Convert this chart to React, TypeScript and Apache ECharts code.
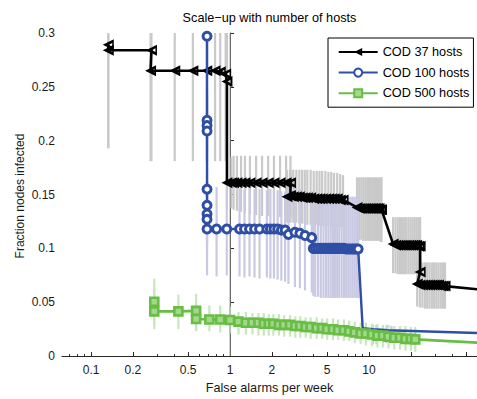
import React, { useEffect, useRef } from "react";
import * as echarts from "echarts";

const FONT = "'Liberation Sans', Arial, Helvetica, sans-serif";

// ---- axes ----
const xAxisMin = 0.0618;
const xAxisMax = 59.8;
const xLabelTicks = [0.1, 0.2, 0.5, 1, 2, 5, 10];
const xMajorTicks = [0.1, 0.2, 0.5, 1, 2, 5, 10, 20, 50];
const xMinorTicks = [0.07, 0.08, 0.09, 0.3, 0.4, 0.6, 0.7, 0.8, 0.9, 3, 4, 6, 7, 8, 9, 30, 40];
const yMin = 0;
const yMax = 0.3;
const yStep = 0.05;
const refLineX = 1;

const titleText = "Scale\u2212up with number of hosts";
const xName = "False alarms per week";
const yName = "Fraction nodes infected";
const seriesNames = ["COD 37 hosts", "COD 100 hosts", "COD 500 hosts"];

// ---- COD 37 hosts ----
const x37 = [
  0.133, 0.133, 0.272, 0.268, 0.4, 0.54, 0.68, 0.78, 0.85, 0.93, 0.95,
  0.95, 1.02, 1.06, 1.12, 1.2, 1.28, 1.39, 1.54, 1.7, 1.88, 2.07, 2.29, 2.53,
  2.72, 2.72, 2.57,
  2.7, 2.85, 3.0, 3.15, 3.3, 3.45, 3.6, 3.8, 4.0, 4.2, 4.4, 4.6, 4.85, 5.1, 5.35, 5.6, 5.9, 6.2, 6.5,
  8.2, 8.5, 8.8, 9.1, 9.4, 9.7, 10.0, 10.3, 10.6, 10.9, 11.2, 11.5, 11.8, 12.1, 12.3,
  14.9, 15.5, 16.1, 16.7, 17.3, 17.9, 18.5, 19.2, 19.9, 20.6, 21.3, 22.0, 22.7, 23.3,
  23.3,
  22.2, 23.2, 24.2, 25.2, 26.2, 27.2, 28.3, 29.4, 30.5, 31.6, 32.8, 34.0, 35.2,
];
const y37 = [
  0.289, 0.284, 0.284, 0.265, 0.265, 0.265, 0.265, 0.265, 0.264, 0.262, 0.255,
  0.161, 0.161, 0.161, 0.161, 0.161, 0.161, 0.161, 0.161, 0.161, 0.161, 0.161, 0.161, 0.161,
  0.161, 0.149, 0.148,
  0.149, 0.148, 0.148, 0.148, 0.147, 0.147, 0.147, 0.147, 0.146, 0.146, 0.146, 0.146, 0.146, 0.146, 0.146, 0.146, 0.146, 0.145, 0.145,
  0.138, 0.137, 0.137, 0.137, 0.137, 0.137, 0.137, 0.137, 0.137, 0.137, 0.137, 0.137, 0.137, 0.136, 0.136,
  0.104, 0.103, 0.103, 0.103, 0.103, 0.103, 0.103, 0.103, 0.103, 0.103, 0.103, 0.103, 0.102, 0.102,
  0.078,
  0.067, 0.066, 0.066, 0.066, 0.066, 0.066, 0.066, 0.066, 0.066, 0.066, 0.065, 0.065, 0.065,
];
const lo37 = [
  0.193, 0.193, 0.181, 0.181, 0.181, 0.181, 0.181, 0.181, 0.181, 0.181, 0.181,
  0.136, 0.137, 0.136, 0.135, 0.134, 0.133, 0.132, 0.131, 0.13, 0.13, 0.129, 0.129, 0.128,
  0.128, 0.124, 0.124,
  0.124, 0.124, 0.124, 0.123, 0.123, 0.123, 0.122, 0.122, 0.122, 0.122, 0.121, 0.121, 0.121, 0.121, 0.12, 0.12, 0.12, 0.12, 0.12,
  0.108, 0.108, 0.108, 0.107, 0.107, 0.107, 0.107, 0.107, 0.107, 0.107, 0.107, 0.107, 0.107, 0.106, 0.106,
  0.077, 0.077, 0.076, 0.076, 0.076, 0.076, 0.076, 0.076, 0.076, 0.076, 0.076, 0.076, 0.076, 0.076,
  0.062,
  0.046, 0.045, 0.045, 0.044, 0.044, 0.044, 0.044, 0.044, 0.044, 0.044, 0.044, 0.044, 0.044,
];
const hi37 = [
  0.3, 0.3, 0.3, 0.3, 0.3, 0.3, 0.3, 0.3, 0.3, 0.3, 0.3,
  0.184, 0.185, 0.186, 0.186, 0.186, 0.186, 0.186, 0.186, 0.186, 0.186, 0.186, 0.186, 0.186,
  0.186, 0.173, 0.173,
  0.173, 0.173, 0.173, 0.173, 0.173, 0.173, 0.173, 0.173, 0.172, 0.172, 0.172, 0.172, 0.172, 0.171, 0.171, 0.17, 0.17, 0.169, 0.168,
  0.166, 0.166, 0.166, 0.166, 0.166, 0.166, 0.166, 0.166, 0.166, 0.166, 0.166, 0.166, 0.166, 0.166, 0.166,
  0.129, 0.129, 0.129, 0.129, 0.129, 0.129, 0.129, 0.129, 0.129, 0.129, 0.129, 0.129, 0.129, 0.129,
  0.094,
  0.087, 0.087, 0.087, 0.087, 0.087, 0.087, 0.087, 0.087, 0.087, 0.087, 0.087, 0.087, 0.087,
];
const tailX37 = [60];
const tailY37 = [0.062];

// ---- COD 100 hosts ----
const x100 = [
  0.683, 0.683, 0.683, 0.683, 0.683, 0.683, 0.683, 0.683, 0.683,
  0.8, 0.947, 1.17, 1.27, 1.38, 1.5, 1.63, 1.84, 1.95, 2.07, 2.2, 2.34, 2.49,
  2.63, 2.93, 3.18, 3.46, 3.87,
  3.97,
  4.1, 4.3, 4.5, 4.7, 4.9, 5.1, 5.3, 5.5, 5.7, 5.9, 6.1, 6.35, 6.6, 6.85, 7.1, 7.35, 7.6, 7.85, 8.1, 8.35,
];
const y100 = [
  0.297, 0.219, 0.214, 0.209, 0.155, 0.14, 0.132, 0.127, 0.118,
  0.118, 0.118, 0.118, 0.118, 0.118, 0.118, 0.118, 0.118, 0.118, 0.118, 0.118, 0.117, 0.117,
  0.113, 0.115, 0.114, 0.112, 0.11,
  0.1,
  0.1, 0.1, 0.1, 0.1, 0.1, 0.1, 0.1, 0.1, 0.1, 0.1, 0.1, 0.1, 0.1, 0.0995, 0.0995, 0.0995, 0.0995, 0.0995, 0.0995, 0.0995,
];
const lo100 = [
  0.262, 0.19, 0.185, 0.18, 0.125, 0.115, 0.105, 0.1, 0.075,
  0.074, 0.075, 0.074, 0.073, 0.074, 0.073, 0.072, 0.073, 0.072, 0.072, 0.071, 0.07, 0.069,
  0.067, 0.064, 0.063, 0.061, 0.059,
  0.056,
  0.055, 0.055, 0.054, 0.054, 0.054, 0.054, 0.054, 0.054, 0.054, 0.054, 0.054, 0.054, 0.054, 0.054, 0.054, 0.054, 0.054, 0.054, 0.054, 0.054,
];
const hi100 = [
  0.3, 0.25, 0.245, 0.24, 0.185, 0.17, 0.162, 0.157, 0.162,
  0.157, 0.156, 0.156, 0.155, 0.156, 0.155, 0.155, 0.154, 0.155, 0.154, 0.154, 0.153, 0.153,
  0.157, 0.156, 0.155, 0.154, 0.153,
  0.15,
  0.149, 0.149, 0.148, 0.148, 0.148, 0.148, 0.148, 0.148, 0.148, 0.148, 0.148, 0.148, 0.148, 0.148, 0.148, 0.148, 0.148, 0.148, 0.148, 0.148,
];
const tailX100 = [9.0, 10.7, 12.2, 13.6, 60];
const tailY100 = [0.026, 0.025, 0.0245, 0.024, 0.0215];
const tailErrX100 = [10.7, 11.3, 13.4, 14.5];
const tailErrLo100 = [0.011, 0.011, 0.012, 0.012];
const tailErrHi100 = [0.029, 0.029, 0.029, 0.028];

// ---- COD 500 hosts ----
const x500 = [
  0.285, 0.285, 0.425, 0.57, 0.57, 0.71, 0.85, 1.0,
  1.15, 1.3, 1.45, 1.6, 1.75, 1.9, 2.05, 2.25, 2.45, 2.7, 2.95, 3.2, 3.5, 3.8, 4.2, 4.6,
  5.0, 5.5, 6.0, 6.6, 7.2, 7.9, 8.7, 9.5, 10.5, 11.5, 12.6, 13.8, 15.2, 16.7, 18.3, 20, 21.5,
];
const y500 = [
  0.0505, 0.0415, 0.0415, 0.042, 0.0345, 0.034, 0.034, 0.0335,
  0.032, 0.031, 0.031, 0.031, 0.03, 0.03, 0.03, 0.029, 0.029, 0.029, 0.028, 0.028, 0.027, 0.027, 0.026, 0.026,
  0.025, 0.025, 0.024, 0.024, 0.023, 0.022, 0.021, 0.021, 0.02, 0.019, 0.019, 0.018, 0.017, 0.017, 0.016, 0.016, 0.0155,
];
const lo500 = [
  0.028, 0.025, 0.025, 0.024, 0.023, 0.023, 0.022, 0.021,
  0.02, 0.02, 0.02, 0.019, 0.019, 0.019, 0.019, 0.019, 0.018, 0.018, 0.017, 0.017, 0.017, 0.016, 0.016, 0.016,
  0.015, 0.015, 0.015, 0.014, 0.014, 0.012, 0.011, 0.01, 0.009, 0.008, 0.008, 0.007, 0.006, 0.006, 0.005, 0.005, 0.004,
];
const hi500 = [
  0.072, 0.062, 0.057, 0.058, 0.048, 0.047, 0.047, 0.046,
  0.041, 0.041, 0.04, 0.04, 0.04, 0.039, 0.039, 0.039, 0.038, 0.038, 0.037, 0.037, 0.036, 0.036, 0.036, 0.035,
  0.035, 0.035, 0.034, 0.034, 0.033, 0.032, 0.031, 0.031, 0.03, 0.03, 0.029, 0.029, 0.028, 0.028, 0.028, 0.027, 0.027,
];
const tailX500 = [60];
const tailY500 = [0.0125];

// ---- styles ----
const C37 = "#000000";
const C100 = "#2f4ea6";
const C500 = "#68bd44";
const F500 = "#a3d78c";
const E37 = "#c9c9c9";
const E100 = "#c9c9e3";
const E500 = "#c9e6bf";
// left-pointing triangle with a small hollow centre
const TRI_LEFT = "path://M0,5L10,0L10,10Z M5.6,5L8.6,6.7L8.6,3.3Z";

const lx = (v: number) => Math.log10(v);

function lineData(xs: number[], ys: number[], tx: number[], ty: number[]) {
  const main: any[] = xs.map((x, i) => [lx(x), ys[i]]);
  const tail = tx.map((x, i) => ({ value: [lx(x), ty[i]], symbol: "none" }));
  return main.concat(tail);
}

function errData(xs: number[], lo: number[], hi: number[]) {
  return xs.map((x, i) => [lx(x), lo[i], hi[i]]);
}

function errSeries(data: number[][], color: string) {
  return {
    type: "custom",
    silent: true,
    clip: true,
    z: 1,
    data,
    encode: { x: 0, y: [1, 2] },
    renderItem: (_params: any, api: any) => {
      const x = api.value(0);
      const a = api.coord([x, api.value(1)]);
      const b = api.coord([x, api.value(2)]);
      return {
        type: "line",
        shape: { x1: a[0], y1: a[1], x2: b[0], y2: b[1] },
        style: { stroke: color, lineWidth: 2.2 },
      };
    },
  };
}

export default function App() {
  const ref = useRef<HTMLDivElement>(null);

  useEffect(() => {
    if (!ref.current) return;
    const chart = echarts.init(ref.current, undefined, { renderer: "svg" });
    const xmin = lx(xAxisMin);
    const xmax = lx(xAxisMax);
    const labelFor = (v: number) => {
      const t = xLabelTicks.find((k) => Math.abs(lx(k) - v) < 1e-6);
      return t === undefined ? "" : String(t);
    };

    const option: any = {
      animation: false,
      grid: { left: 62, right: 0, top: 33, bottom: 37, containLabel: false },
      graphic: [
        {
          type: "text",
          x: 269.5,
          y: 18,
          style: {
            text: titleText,
            fontSize: 12.7,
            fontFamily: FONT,
            fill: "#000",
            align: "center",
            verticalAlign: "middle",
          },
        },
        {
          type: "text",
          x: 20,
          y: 196,
          rotation: Math.PI / 2,
          style: {
            text: yName,
            fontSize: 12,
            fontFamily: FONT,
            fill: "#1a1a1a",
            align: "center",
            verticalAlign: "middle",
          },
        },
      ],
      legend: {
        data: seriesNames,
        orient: "vertical",
        left: 328,
        top: 38,
        itemWidth: 39,
        itemHeight: 10,
        itemGap: 7.7,
        padding: [7.4, 4, 7.4, 9.7],
        borderColor: "#000",
        borderWidth: 1,
        backgroundColor: "#fff",
        selectedMode: false,
        textStyle: { fontSize: 12.7, fontFamily: FONT, color: "#000", lineHeight: 10 },
      },
      xAxis: [
        {
          type: "value",
          min: xmin,
          max: xmax,
          position: "bottom",
          axisLine: { show: true, onZero: false, lineStyle: { color: "#262626", width: 1 } },
          axisTick: {
            show: true,
            inside: true,
            length: 4,
            customValues: xMajorTicks.map(lx),
            lineStyle: { color: "#262626" },
          },
          axisLabel: {
            customValues: xLabelTicks.map(lx),
            formatter: labelFor,
            margin: 8,
            fontSize: 12,
            fontFamily: FONT,
            color: "#1a1a1a",
          },
          splitLine: { show: false },
          name: xName,
          nameLocation: "middle",
          nameGap: 19,
          nameTextStyle: { fontSize: 12.7, fontFamily: FONT, color: "#1a1a1a" },
        },
        {
          type: "value",
          min: xmin,
          max: xmax,
          position: "bottom",
          axisLine: { show: false, onZero: false },
          axisTick: {
            show: true,
            inside: true,
            length: 2,
            customValues: xMinorTicks.map(lx),
            lineStyle: { color: "#262626" },
          },
          axisLabel: { show: false },
          splitLine: { show: false },
        },
      ],
      yAxis: {
        type: "value",
        min: yMin,
        max: yMax,
        interval: yStep,
        axisLine: { show: true, lineStyle: { color: "#262626", width: 1 } },
        axisTick: { show: true, inside: true, length: 4, lineStyle: { color: "#262626" } },
        axisLabel: {
          margin: 7,
          fontSize: 12,
          fontFamily: FONT,
          color: "#1a1a1a",
          formatter: (v: number) => String(Number(v.toFixed(2))),
        },
        splitLine: { show: false },
      },
      series: [
        errSeries(errData(x37, lo37, hi37), E37),
        errSeries(errData(x100, lo100, hi100), E100),
        errSeries(errData(tailErrX100, tailErrLo100, tailErrHi100), E100),
        errSeries(errData(x500, lo500, hi500), E500),
        {
          type: "line",
          silent: true,
          symbol: "none",
          z: 2,
          data: [
            [lx(refLineX), yMin],
            [lx(refLineX), yMax],
          ],
          lineStyle: { color: "#a0a0a0", width: 1 },
        },
        {
          name: seriesNames[0],
          type: "line",
          z: 3,
          data: lineData(x37, y37, tailX37, tailY37),
          symbol: TRI_LEFT,
          symbolSize: 11,
          showAllSymbol: true,
          itemStyle: { color: C37, borderWidth: 0 },
          lineStyle: { color: C37, width: 2.6 },
        },
        {
          name: seriesNames[1],
          type: "line",
          z: 4,
          data: lineData(x100, y100, tailX100, tailY100),
          symbol: "circle",
          symbolSize: 8,
          showAllSymbol: true,
          itemStyle: { color: "#fff", borderColor: C100, borderWidth: 3 },
          lineStyle: { color: C100, width: 2.4 },
        },
        {
          name: seriesNames[2],
          type: "line",
          z: 5,
          data: lineData(x500, y500, tailX500, tailY500),
          symbol: "rect",
          symbolSize: 8,
          showAllSymbol: true,
          itemStyle: { color: F500, borderColor: C500, borderWidth: 2.6 },
          lineStyle: { color: C500, width: 2.6 },
        },
      ],
    };
    chart.setOption(option);
    return () => chart.dispose();
  }, []);

  return (
    <div
      ref={ref}
      style={{ position: "fixed", left: 0, top: 0, width: 477, height: 399, background: "#fff" }}
    />
  );
}
